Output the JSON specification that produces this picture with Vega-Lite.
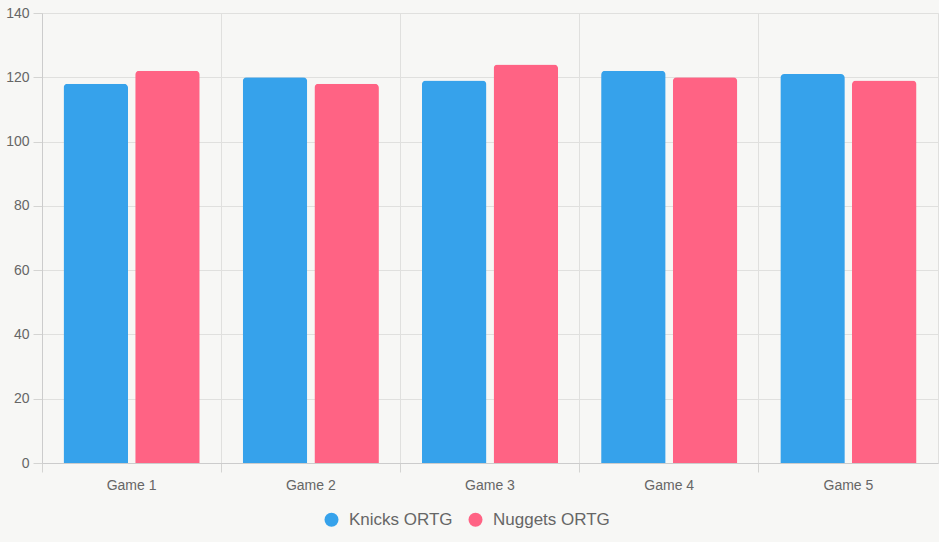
{
  "$schema": "https://vega.github.io/schema/vega-lite/v6.json",
  "autosize": "none",
  "width": 896,
  "height": 450,
  "padding": {"left": 42, "top": 13, "right": 1, "bottom": 79},
  "background": "#f7f7f5",
  "config": {
    "font": "Liberation Sans",
    "view": {"stroke": "#e0e0de", "strokeWidth": 1},
    "axis": {
      "labelFont": "Liberation Sans",
      "labelFontSize": 14,
      "labelColor": "#666666",
      "gridColor": "#e0e0de",
      "gridOpacity": 1,
      "tickColor": "#d4d4d2",
      "tickSize": 9,
      "domainColor": "#cccccc",
      "title": null
    }
  },
  "data": {
    "values": [
      {"game": "Game 1", "team": "Knicks ORTG", "ortg": 118},
      {"game": "Game 1", "team": "Nuggets ORTG", "ortg": 122},
      {"game": "Game 2", "team": "Knicks ORTG", "ortg": 120},
      {"game": "Game 2", "team": "Nuggets ORTG", "ortg": 118},
      {"game": "Game 3", "team": "Knicks ORTG", "ortg": 119},
      {"game": "Game 3", "team": "Nuggets ORTG", "ortg": 124},
      {"game": "Game 4", "team": "Knicks ORTG", "ortg": 122},
      {"game": "Game 4", "team": "Nuggets ORTG", "ortg": 120},
      {"game": "Game 5", "team": "Knicks ORTG", "ortg": 121},
      {"game": "Game 5", "team": "Nuggets ORTG", "ortg": 119}
    ]
  },
  "mark": {
    "type": "bar",
    "cornerRadiusTopLeft": 4,
    "cornerRadiusTopRight": 4
  },
  "encoding": {
    "x": {
      "field": "game",
      "type": "nominal",
      "sort": null,
      "scale": {"paddingInner": 0, "paddingOuter": 0},
      "axis": {
        "bandPosition": 0,
        "labelAngle": 0,
        "labelPadding": 6,
        "grid": true,
        "domain": true
      }
    },
    "xOffset": {
      "field": "team",
      "type": "nominal",
      "scale": {"paddingInner": 0.1, "paddingOuter": 0.3}
    },
    "y": {
      "field": "ortg",
      "type": "quantitative",
      "scale": {"domain": [0, 140], "nice": false},
      "axis": {
        "values": [0, 20, 40, 60, 80, 100, 120, 140],
        "labelPadding": 4,
        "grid": true
      }
    },
    "color": {
      "field": "team",
      "type": "nominal",
      "scale": {
        "domain": ["Knicks ORTG", "Nuggets ORTG"],
        "range": ["#36a2eb", "#ff6384"]
      },
      "legend": {
        "title": null,
        "orient": "none",
        "direction": "horizontal",
        "legendX": 281,
        "legendY": 498,
        "padding": 0,
        "symbolType": "circle",
        "symbolSize": 196,
        "symbolStrokeWidth": 0,
        "symbolOpacity": 1,
        "labelFontSize": 17,
        "labelColor": "#666666",
        "labelOffset": 9,
        "columnPadding": 14
      }
    }
  }
}
